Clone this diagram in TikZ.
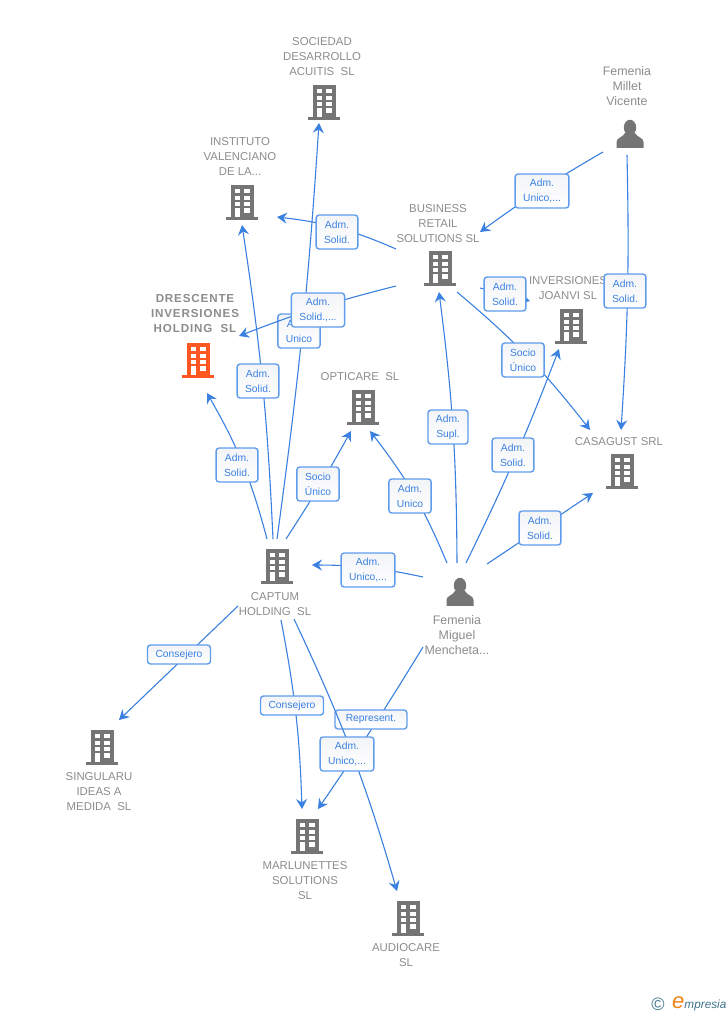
\documentclass[tikz,border=0pt]{standalone}
\usepackage{fontspec}
\setmainfont{Liberation Sans}
\usetikzlibrary{arrows.meta}
\definecolor{linkblue}{RGB}{58,128,224}
\definecolor{boxedge}{RGB}{96,156,236}
\definecolor{boxshade}{RGB}{243,244,247}
\definecolor{bldggray}{RGB}{117,117,117}
\definecolor{bldgorange}{RGB}{255,87,34}
\definecolor{txtgray}{RGB}{140,140,140}
\definecolor{logoblue}{RGB}{62,115,140}
\definecolor{logoorange}{RGB}{240,130,20}
\tikzset{
	building/.pic={
		\fill[pic actions] (-11.5,-17) rectangle (11.5,15.5);
		\fill[pic actions] (-16,15) rectangle (16,17.5);
		\fill[white] (-7.3,6.3) rectangle (-2.3,15);
		\fill[white] (2.2,6.3) rectangle (7.7,10.7);
		\foreach \row in {-13,-6.4,0} {
			\fill[white] (-7.3,\row) rectangle +(5,4.4);
			\fill[white] (2.2,\row) rectangle +(5.5,4.4);
		}
	},
	person/.pic={
		\fill[bldggray] (0,-6.5) ellipse (6.2 and 7.7);
		\fill[bldggray] (-13.5,13.8) -- (-13.5,8) .. controls (-13.5,3.5) and (-7,3.5) .. (-5,-1) -- (5,-1) .. controls (7,3.5) and (13.5,3.5) .. (13.5,8) -- (13.5,13.8) -- cycle;
	},
	ent/.style={inner sep=0pt,minimum size=0pt},
	nametxt/.style={inner sep=0pt,align=center,text=txtgray,font=\fontsize{11.4}{15}\selectfont},
	persontxt/.style={nametxt,font=\fontsize{12.4}{15}\selectfont},
	lbl/.style={draw=boxedge,line width=1.4pt,rounded corners=3pt,top color=boxshade,bottom color=white,
		inner xsep=8pt,inner ysep=3pt,minimum height=19pt,align=center,text=linkblue,font=\fontsize{10.3}{15}\selectfont},
	lbltwo/.style={lbl,minimum height=34pt},
	lblwide/.style={lbl,minimum width=72pt},
	linkto/.style={draw=linkblue,line width=1.1pt,-{Stealth[length=10pt,width=11pt,inset=3.5pt]}}
}
\begin{document}
\begin{tikzpicture}[x=1pt,y=-1pt]
	\useasboundingbox (0,0) rectangle (728,1015);
	\foreach \name/\x/\y in {sociedad/324/102, instituto/242/202, business/440/268, joanvi/571/326, casagust/622/471, opticare/363/407, captum/277/566, singularu/102/747, marlunettes/307/836, audiocare/408/918} {
		\pic[fill=bldggray] at (\x,\y) {building};
		\node[ent] (\name) at (\x,\y) {};
	}
	\pic[fill=bldgorange] at (198,360) {building};
	\node[ent] (drescente) at (198,360) {};
	\foreach \name/\x/\y in {miguel/460/592, millet/630/134} {
		\pic at (\x,\y) {person};
		\node[ent] (\name) at (\x,\y) {};
	}
	\foreach \name/\x/\y/\txt in {
		sociedadtxt/322/57/{SOCIEDAD\\DESARROLLO\\ACUITIS~~SL},
		institutotxt/240/157/{INSTITUTO\\VALENCIANO\\DE LA...},
		businesstxt/438/224/{BUSINESS\\RETAIL\\SOLUTIONS SL},
		joanvitxt/568/288.5/{INVERSIONES\\JOANVI SL},
		casagusttxt/619/442/{CASAGUST SRL},
		opticaretxt/360/377/{OPTICARE~~SL},
		captumtxt/275/604.5/{CAPTUM\\HOLDING~~SL},
		singularutxt/99/792/{SINGULARU\\IDEAS A\\MEDIDA~~SL},
		marlunettestxt/305/881/{MARLUNETTES\\SOLUTIONS\\SL},
		audiocaretxt/406/955.5/{AUDIOCARE\\SL}} {
		\node[nametxt] (\name) at (\x,\y) {\txt};
	}
	\node[nametxt,font=\fontsize{11.6}{15}\selectfont\bfseries\addfontfeature{LetterSpace=7.5}] (drescentetxt) at (195,314) {DRESCENTE\\INVERSIONES\\HOLDING~~SL};
	\node[persontxt] (migueltxt) at (457,635) {Femenia\\Miguel\\Mencheta...};
	\node[persontxt] (millettxt) at (627,86) {Femenia\\Millet\\Vicente};
	\foreach \src/\sx/\sy/\dst/\tx/\ty/\bend/\lname/\sty/\x/\y/\txt in {
		captum/0/-27/sociedad/-5/21/-2/lunico/lbltwo/299/331/{Adm.\\Unico},
		captum/-4/-27/instituto/0/23/-3/lsolidc/lbltwo/258/381/{Adm.\\Solid.},
		captum/-10/-27/drescente/9/33/-7.5/lsolidd/lbltwo/237/465/{Adm.\\Solid.},
		captum/9/-27/opticare/-12/24/-2/lsocioo/lbltwo/318/484/{Socio\\Único},
		miguel/-13/-29/opticare/7/24/-7.5/lunicoo/lbltwo/410/496/{Adm.\\Unico},
		miguel/-3/-29/business/-1/24/-3.5/lsupl/lbltwo/448/427/{Adm.\\Supl.},
		miguel/6/-29/joanvi/-12/23/-2.5/lsolidj/lbltwo/513/455/{Adm.\\Solid.},
		miguel/27/-28/casagust/-29/22/0/lsolidg/lbltwo/540/528/{Adm.\\Solid.},
		miguel/-37/-15/captum/35/-1/-6/lunicoc/lbltwo/368/570/{Adm.\\Unico,...},
		millet/-27/18/business/40/-36/-3/lunicom/lbltwo/542/191/{Adm.\\Unico,...},
		millet/-3/21/casagust/-1/-41/2.5/lsolidm/lbltwo/625/291/{Adm.\\Solid.},
		business/-44/-19/instituto/35/15/-8.5/lsolidi/lbltwo/337/232/{Adm.\\Solid.},
		business/-44/18/drescente/41/-24/-3.5/lsolidb/lbltwo/318/310/{Adm.\\Solid.,...},
		business/40/20/joanvi/-41/-25/0/lsolidr/lbltwo/505/294/{Adm.\\Solid.},
		business/17/24/casagust/-32/-41/6/lsocioc/lbltwo/523/360/{Socio\\Único},
		captum/-39/40/singularu/17/-27/0/lconsejs/lbl/179/654.5/{Consejero},
		captum/4/54/marlunettes/-5/-27/4.5/lconsejm/lbl/292/705.5/{Consejero},
		miguel/-37/55/marlunettes/11/-27/1.5/lrepr/lblwide/371/719.5/{Represent.},
		captum/17/53/audiocare/-11/-27/4.5/lunicoa/lbltwo/347/754/{Adm.\\Unico,...}} {
		\draw[linkto] ([shift={(\sx,\sy)}]\src.center) to[bend left=\bend] ([shift={(\tx,\ty)}]\dst.center);
		\node[\sty] (\lname) at (\x,\y) {\txt};
	}
	\node[inner sep=0pt,text=logoblue,font=\fontsize{18}{18}\selectfont] (logomark) at (658,1004) {©};
	\node[inner sep=0pt,text=logoblue,anchor=west,font=\fontsize{11.8}{15}\selectfont\itshape] (logotxt) at (672,1004) {\textcolor{logoorange}{\fontsize{22}{15}\selectfont e}mpresia};
\end{tikzpicture}
\end{document}
